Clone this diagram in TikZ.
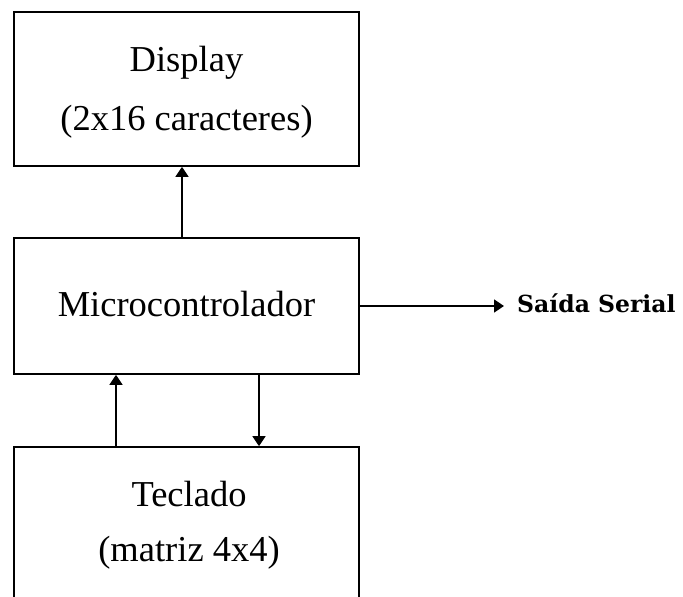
\documentclass[tikz,border=0pt]{standalone}
\usepackage{fontspec}
\setmainfont{Liberation Serif}
\newfontfamily\outfont{DejaVu Serif}
\usetikzlibrary{arrows.meta}
\tikzset{
  block/.style={draw, line width=1.7pt, minimum width=345pt, inner sep=0pt},
  label/.style={anchor=base, inner sep=0pt, font=\fontsize{36.5}{44}\selectfont},
  arr/.style={line width=1.7pt, -{Triangle[length=10pt,width=13pt]}},
}
\begin{document}
\begin{tikzpicture}[x=1pt, y=-1pt]
  \useasboundingbox (0,0) rectangle (683,597);
  \clip (0,0) rectangle (683,597);
  % blocks
  \node[block, minimum height=154pt] (disp) at (186.5,89) {};
  \node[block, minimum height=136pt] (mc) at (186.5,306) {};
  \node[block, minimum height=180pt] (tec) at (186.5,537) {};
  % texts
  \node[label] (dispA) at (186.5,71.5) {Display};
  \node[label] (dispB) at (186.5,130) {(2x16 caracteres)};
  \node[label] (mcA) at (186.5,316.5) {Microcontrolador};
  \node[label] (tecA) at (189,506.5) {Teclado};
  \node[label] (tecB) at (189,561.5) {(matriz 4x4)};
  \node[anchor=base west, inner sep=0pt, font=\outfont\bfseries\fontsize{23.5}{28}\selectfont]
    (out) at (517,312.5) {Saída Serial};
  % x positions of the vertical links
  \coordinate (xd) at (182,0);
  \coordinate (xu) at (116,0);
  \coordinate (xn) at (259,0);
  \coordinate (send) at (504,306);
  % links
  \draw[arr] (mc.north -| xd) -- (disp.south -| xd);
  \draw[arr] (tec.north -| xu) -- (mc.south -| xu);
  \draw[arr] (mc.south -| xn) -- (tec.north -| xn);
  \draw[arr] (mc.east |- send) -- (send);
\end{tikzpicture}
\end{document}
